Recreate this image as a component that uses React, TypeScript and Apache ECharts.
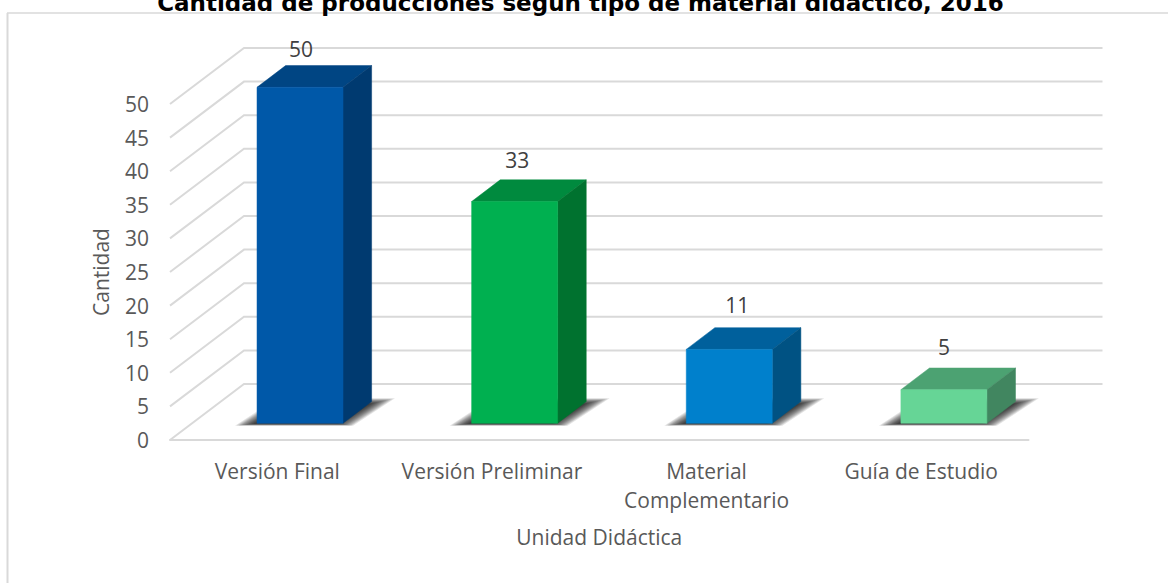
import React, { useEffect, useRef } from "react";
import * as echarts from "echarts";

const titleText = "Cantidad de producciones según tipo de material didáctico, 2016";
const categories = ["Versión Final", "Versión Preliminar", "Material\nComplementario", "Guía de Estudio"];
const values = [50, 33, 11, 5];
const gridValues = [0, 5, 10, 15, 20, 25, 30, 35, 40, 45, 50];
const xAxisName = "Unidad Didáctica";
const yAxisName = "Cantidad";

const frontColors = ["#0058A8", "#00B050", "#0080CC", "#66D596"];
const topColors = ["#004583", "#008A3E", "#00609C", "#4CA272"];
const sideColors = ["#003A70", "#00722F", "#005283", "#418660"];
const labelNudgeX = [1, 2.5, 8, 0];
const labelNudgeY = [-17, -20, -23, -21];
const shadowLayers = [0, 1, 2, 3, 4, 5, 6, 7, 8, 9, 10, 11];

const FONT = "'Open Sans', sans-serif";
const FS = 21;
const LINE = "#D9D9D9";
const WALL_DX = 74;
const WALL_DY = -56;
const BAR_DX = 22.7;
const BAR_DY = -16.7;
const DEPTH_DX = 28.6;
const DEPTH_DY = -21.7;
const BAR_W = 86;

export default function App() {
  const ref = useRef<HTMLDivElement>(null);
  useEffect(() => {
    document.body.style.margin = "0";
    const chart = echarts.init(ref.current!, null, { renderer: "svg" });
    chart.setOption({
      animation: false,
      backgroundColor: "#FFFFFF",
      title: {
        text: titleText,
        left: 575.5,
        top: -14,
        textAlign: "center",
        textStyle: { fontFamily: "'DejaVu Sans', sans-serif", fontWeight: "bold", fontSize: 23, color: "#000000" },
      },
      grid: { left: 170, top: 104, width: 858.5, height: 336 },
      xAxis: {
        type: "category",
        data: categories,
        name: xAxisName,
        nameLocation: "middle",
        nameGap: 86,
        nameTextStyle: { fontFamily: FONT, fontSize: FS, color: "#595959" },
        axisLine: { show: true, lineStyle: { color: LINE, width: 2 } },
        axisTick: { show: false },
        axisLabel: { fontFamily: FONT, fontSize: FS, color: "#595959", margin: 16, lineHeight: 29, interval: 0 },
        splitLine: { show: false },
      },
      yAxis: {
        type: "value",
        min: 0,
        max: 50,
        interval: 5,
        name: yAxisName,
        nameLocation: "middle",
        nameGap: 59,
        nameTextStyle: { fontFamily: FONT, fontSize: FS, color: "#595959" },
        axisLine: { show: false },
        axisTick: { show: false },
        axisLabel: { fontFamily: FONT, fontSize: FS, color: "#595959", margin: 21, padding: [2, 0, 0, 0] },
        splitLine: { show: false },
      },
      graphic: [
        { type: "line", shape: { x1: 7.5, y1: 13, x2: 7.5, y2: 583 }, style: { stroke: LINE, lineWidth: 2 }, silent: true },
        { type: "line", shape: { x1: 7, y1: 13, x2: 1168, y2: 13 }, style: { stroke: LINE, lineWidth: 1.5 }, silent: true },
      ],
      series: [
        {
          type: "custom",
          silent: true,
          clip: false,
          z: 1,
          data: gridValues.map((v) => [0, v]),
          encode: { x: 0, y: 1 },
          renderItem: (params: any, api: any) => {
            const cs = params.coordSys;
            const y = api.coord([0, api.value(1)])[1];
            const x0 = cs.x;
            const x1 = cs.x + cs.width;
            return {
              type: "polyline",
              shape: {
                points: [
                  [x0, y],
                  [x0 + WALL_DX, y + WALL_DY],
                  [x1 + WALL_DX, y + WALL_DY],
                ],
              },
              style: { stroke: LINE, lineWidth: 2, fill: "none" },
            };
          },
        },
        {
          type: "custom",
          silent: true,
          clip: false,
          z: 2,
          data: values.map((v, i) => [i, v]),
          encode: { x: 0, y: 1 },
          renderItem: (_params: any, api: any) => {
            const i = api.value(0);
            const v = api.value(1);
            const [cx, yTop] = api.coord([i, v]);
            const yBase = api.coord([i, 0])[1] + BAR_DY;
            const top = yTop + BAR_DY;
            const l = cx + BAR_DX - BAR_W / 2;
            const r = l + BAR_W;
            const poly = (points: number[][], fill: string) => ({
              type: "polygon",
              shape: { points },
              style: { fill, stroke: fill, lineWidth: 0.5 },
            });
            const shadows = shadowLayers.map((k) => ({
              type: "polygon",
              shape: {
                points: [
                  [l - 22 + k * 1.7, yBase + 2.5 - k * 0.18],
                  [r + 10 - k * 1.4, yBase + 2.5 - k * 0.18],
                  [r + 52 - k * 2.2, yBase - 25 + k * 0.5],
                  [l + 20 + k * 1.2, yBase - 25 + k * 0.5],
                ],
              },
              style: { fill: "rgba(0,0,0,0.105)" },
            }));
            return {
              type: "group",
              children: [
                ...shadows,
                poly([[l, top], [r, top], [r + DEPTH_DX, top + DEPTH_DY], [l + DEPTH_DX, top + DEPTH_DY]], topColors[i]),
                poly([[r, top], [r + DEPTH_DX, top + DEPTH_DY], [r + DEPTH_DX, yBase + DEPTH_DY], [r, yBase]], sideColors[i]),
                poly([[l, top], [r, top], [r, yBase], [l, yBase]], frontColors[i]),
                {
                  type: "text",
                  x: cx + BAR_DX + labelNudgeX[i],
                  y: top + DEPTH_DY + labelNudgeY[i],
                  style: {
                    text: String(v),
                    fontFamily: FONT,
                    fontSize: FS,
                    fill: "#404040",
                    align: "center",
                    verticalAlign: "middle",
                  },
                },
              ],
            };
          },
        },
      ],
    });
    return () => chart.dispose();
  }, []);
  return <div ref={ref} style={{ width: 1168, height: 583 }} />;
}
